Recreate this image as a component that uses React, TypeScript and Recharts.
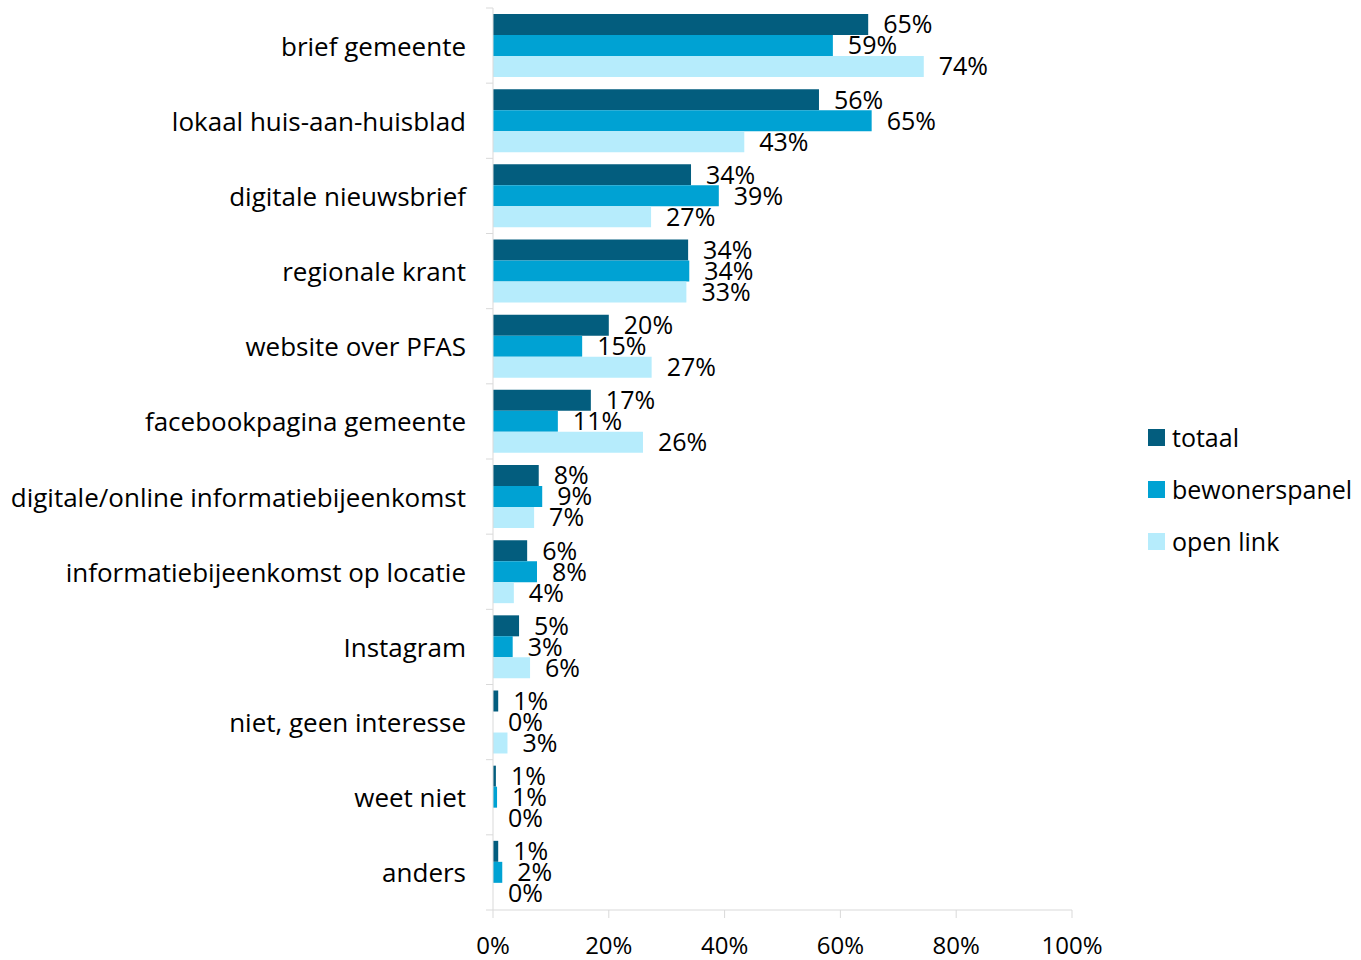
import { BarChart, Bar, XAxis, YAxis, Legend, LabelList } from "recharts";

const categories = [
  "brief gemeente",
  "lokaal huis-aan-huisblad",
  "digitale nieuwsbrief",
  "regionale krant",
  "website over PFAS",
  "facebookpagina gemeente",
  "digitale/online informatiebijeenkomst",
  "informatiebijeenkomst op locatie",
  "Instagram",
  "niet, geen interesse",
  "weet niet",
  "anders",
];

const totaal = [64.8, 56.3, 34.2, 33.7, 20.0, 16.9, 7.9, 5.9, 4.5, 0.9, 0.5, 0.9];
const bewonerspanel = [58.7, 65.4, 39.0, 33.9, 15.4, 11.2, 8.5, 7.6, 3.4, 0, 0.7, 1.6];
const openLink = [74.4, 43.4, 27.3, 33.4, 27.4, 25.9, 7.1, 3.6, 6.4, 2.5, 0, 0];

const xTicks = [0, 20, 40, 60, 80, 100];
const legendOrder = ["totaal", "bewonerspanel", "open link"];

const COLORS = {
  totaal: "#035d7e",
  bewonerspanel: "#00a2d3",
  openLink: "#b6ecfc",
};

const FONT = "'Open Sans', sans-serif";
const AXIS_GRAY = "#d9d9d9";

const data = categories.map((name, i) => ({
  name,
  totaal: totaal[i],
  bewonerspanel: bewonerspanel[i],
  openLink: openLink[i],
}));

const pct = (v: unknown) => `${Math.round(Number(v))}%`;

// category label + tick marks on the band boundaries
const CategoryTick = (props: any) => {
  const { x, y, payload, index, visibleTicksCount } = props;
  const band = 902 / categories.length;
  const axisX = x + 8;
  return (
    <g>
      <line x1={axisX - 7} x2={axisX} y1={y - band / 2} y2={y - band / 2} stroke={AXIS_GRAY} />
      {index === visibleTicksCount - 1 && (
        <line x1={axisX - 7} x2={axisX} y1={y + band / 2} y2={y + band / 2} stroke={AXIS_GRAY} />
      )}
      <text
        x={axisX - 27}
        y={y}
        textAnchor="end"
        dominantBaseline="central"
        fontFamily={FONT}
        fontSize={26}
        fill="#000"
      >
        {payload.value}
      </text>
    </g>
  );
};

const LegendContent = (props: any) => {
  const items = [...(props.payload || [])].sort(
    (a: any, b: any) => legendOrder.indexOf(a.value) - legendOrder.indexOf(b.value)
  );
  return (
    <div style={{ fontFamily: FONT, fontSize: 25, color: "#000" }}>
      {items.map((entry: any) => (
        <div key={entry.value} style={{ display: "flex", alignItems: "center", height: 52 }}>
          <span style={{ width: 17, height: 17, background: entry.color, marginRight: 7, display: "inline-block" }} />
          <span>{entry.value}</span>
        </div>
      ))}
    </div>
  );
};

const labelProps = {
  position: "right" as const,
  offset: 15,
  formatter: pct,
  fontFamily: FONT,
  fontSize: 25,
  fill: "#000",
};

export default function App() {
  return (
    <div style={{ position: "absolute", left: 0, top: 0, background: "#fff" }}>
      <BarChart
        width={1361}
        height={960}
        data={data}
        layout="vertical"
        margin={{ top: 8, right: 289, left: 0, bottom: 0 }}
        barCategoryGap={6}
        barGap={0}
      >
        <XAxis
          type="number"
          domain={[0, 100]}
          ticks={xTicks}
          tickFormatter={(v) => `${v}%`}
          height={50}
          axisLine={{ stroke: AXIS_GRAY }}
          tickLine={{ stroke: AXIS_GRAY }}
          tickSize={8}
          tick={{ fontFamily: FONT, fontSize: 24, fill: "#000", dy: 17 }}
        />
        <YAxis
          type="category"
          dataKey="name"
          width={493}
          axisLine={{ stroke: AXIS_GRAY }}
          tickLine={false}
          tick={<CategoryTick />}
          interval={0}
        />
        <Legend
          layout="vertical"
          align="center"
          verticalAlign="middle"
          content={<LegendContent />}
          wrapperStyle={{ position: "absolute", left: 1148, top: 411, width: 213 }}
        />
        <Bar dataKey="totaal" name="totaal" fill={COLORS.totaal} minPointSize={0.01} isAnimationActive={false}>
          <LabelList dataKey="totaal" {...labelProps} />
        </Bar>
        <Bar dataKey="bewonerspanel" name="bewonerspanel" fill={COLORS.bewonerspanel} minPointSize={0.01} isAnimationActive={false}>
          <LabelList dataKey="bewonerspanel" {...labelProps} />
        </Bar>
        <Bar dataKey="openLink" name="open link" fill={COLORS.openLink} minPointSize={0.01} isAnimationActive={false}>
          <LabelList dataKey="openLink" {...labelProps} />
        </Bar>
      </BarChart>
    </div>
  );
}
